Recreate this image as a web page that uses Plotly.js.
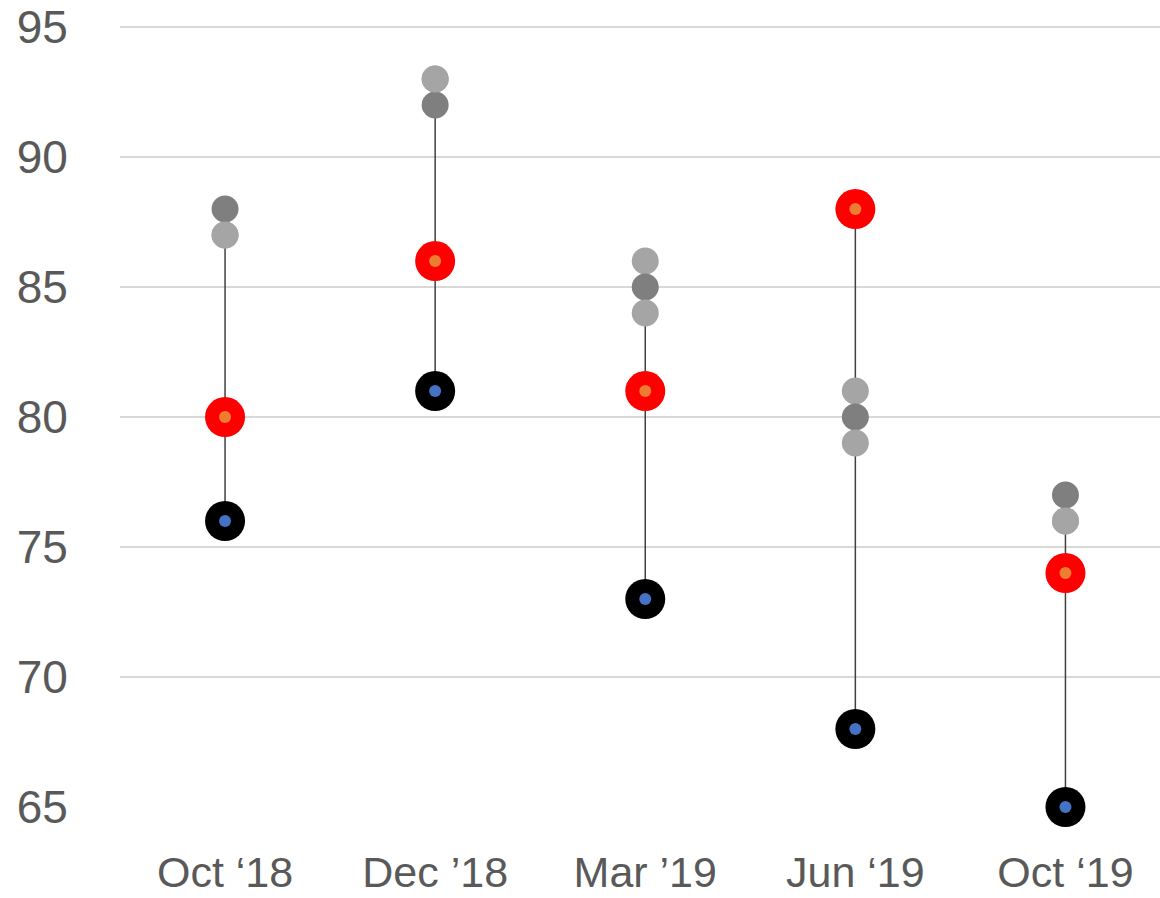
<!DOCTYPE html>
<html>
<head>
<meta charset="utf-8">
<script src="https://cdn.plot.ly/plotly-3.0.1.min.js"></script>
<style>html,body{margin:0;padding:0;background:#fff;}#chart{width:1160px;height:898px;}</style>
</head>
<body>
<div id="chart"></div>
<script>
var categories = ["Oct \u201818", "Dec \u201918", "Mar \u201919", "Jun \u201819", "Oct \u201819"];
var lowValues = [76, 81, 73, 68, 65];
var currentValues = [80, 86, 81, 88, 74];
var darkGrayValues = [88, 92, 85, 80, 77];
var lightGrayUpper = [87, 93, 86, 81, 76];
var lightGrayLower = [87, 93, 84, 79, 76];
var yTicks = [65, 70, 75, 80, 85, 90, 95];

var idx = categories.map(function(_, i){ return i; });

// vertical connector lines (min to max of each category)
var lx = [], ly = [];
idx.forEach(function(i){
  var vals = [lowValues[i], currentValues[i], darkGrayValues[i], lightGrayUpper[i], lightGrayLower[i]];
  lx.push(i, i, null);
  ly.push(Math.min.apply(null, vals), Math.max.apply(null, vals), null);
});

var traces = [
  {x: lx, y: ly, mode: 'lines', line: {color: '#404040', width: 1.5}, hoverinfo: 'skip', cliponaxis: false},
  {x: idx, y: lightGrayUpper, mode: 'markers', marker: {color: '#A5A5A5', size: 27}, cliponaxis: false},
  {x: idx, y: darkGrayValues, mode: 'markers', marker: {color: '#7F7F7F', size: 27}, cliponaxis: false},
  {x: idx, y: lightGrayLower, mode: 'markers', marker: {color: '#A5A5A5', size: 27}, cliponaxis: false},
  {x: idx, y: currentValues, mode: 'markers', marker: {color: '#FF0000', size: 40}, cliponaxis: false},
  {x: idx, y: currentValues, mode: 'markers', marker: {color: '#ED7D31', size: 12}, cliponaxis: false},
  {x: idx, y: lowValues, mode: 'markers', marker: {color: '#000000', size: 40}, cliponaxis: false},
  {x: idx, y: lowValues, mode: 'markers', marker: {color: '#4472C4', size: 12}, cliponaxis: false}
];

var layout = {
  width: 1160, height: 898,
  margin: {l: 120, r: 0, t: 26, b: 91},
  paper_bgcolor: '#ffffff', plot_bgcolor: '#ffffff',
  showlegend: false,
  font: {family: 'Liberation Sans, Arial, sans-serif', color: '#595959', size: 44},
  xaxis: {
    range: [-0.5, 4.45],
    tickmode: 'array', tickvals: idx, ticktext: categories,
    showgrid: false, zeroline: false, showline: false,
    ticks: 'outside', ticklen: 27, tickcolor: 'rgba(0,0,0,0)',
    tickfont: {size: 43, color: '#595959'}
  },
  yaxis: {
    range: [65, 95.04],
    tickmode: 'array', tickvals: yTicks,
    showgrid: true, gridcolor: '#D9D9D9', gridwidth: 1.5,
    zeroline: false, showline: false,
    ticks: 'outside', ticklen: 42, tickcolor: 'rgba(0,0,0,0)',
    tickfont: {size: 46, color: '#595959'}
  }
};

Plotly.newPlot('chart', traces, layout, {staticPlot: true});
</script>
</body>
</html>
